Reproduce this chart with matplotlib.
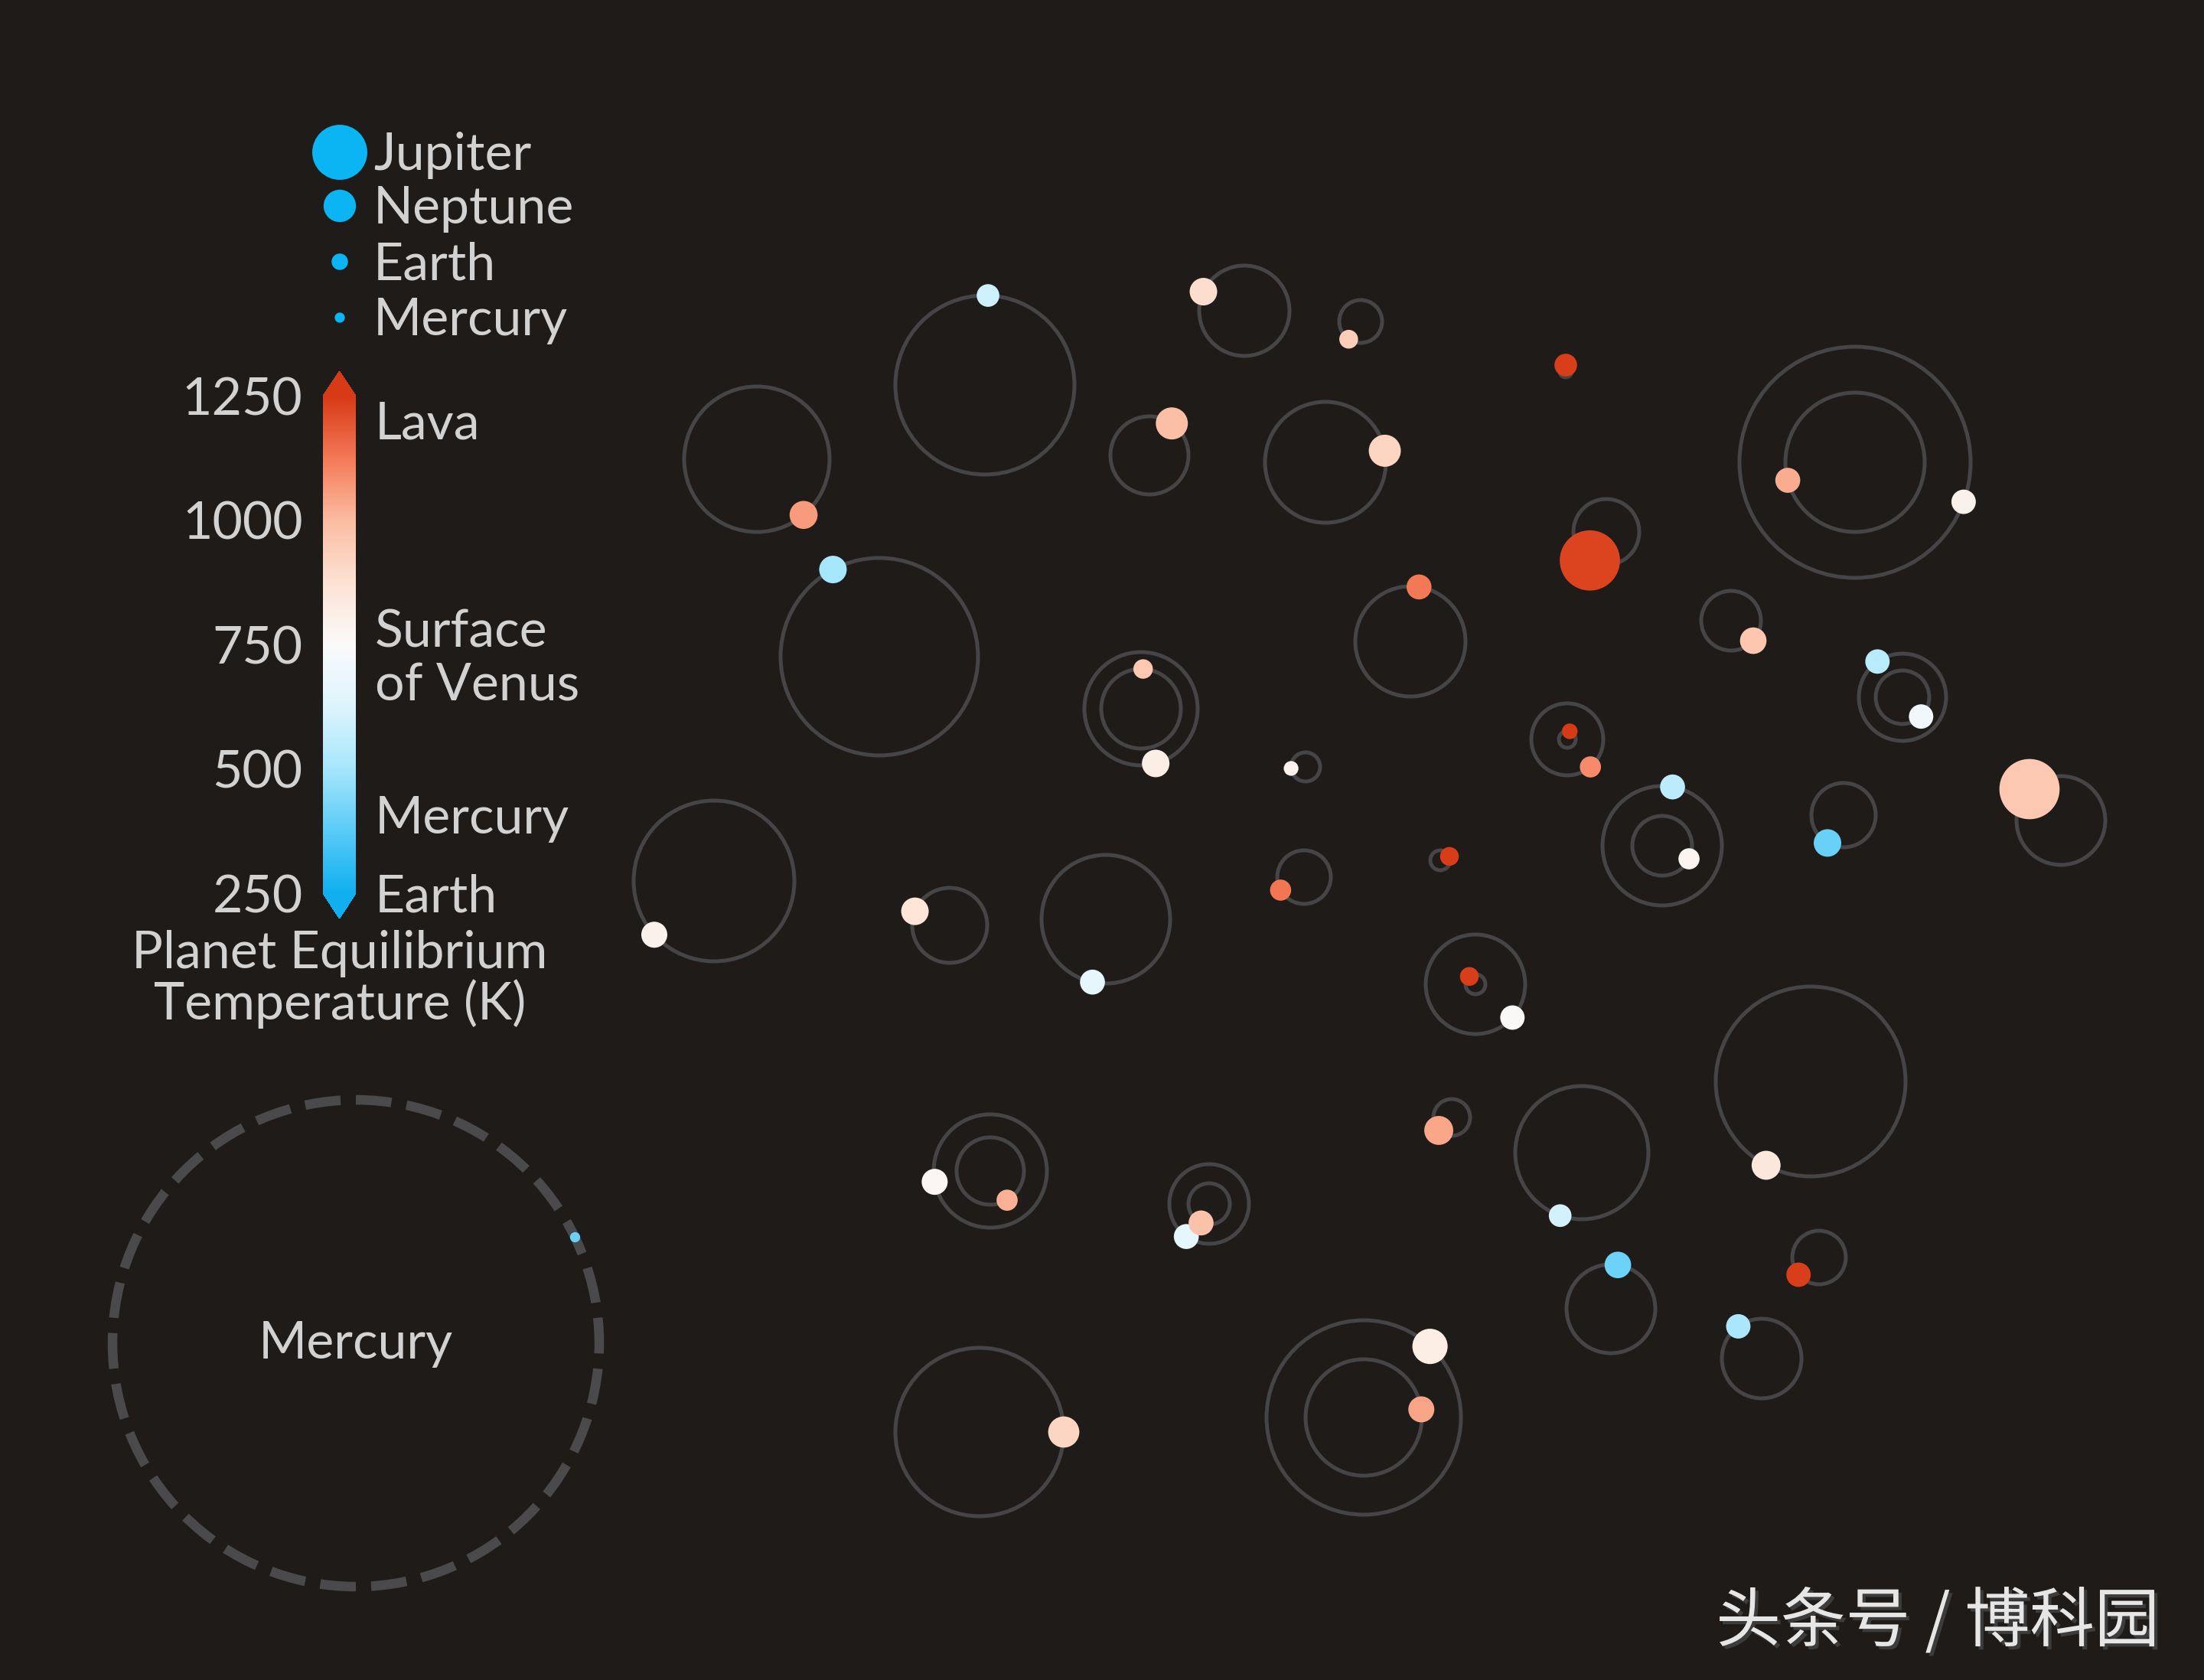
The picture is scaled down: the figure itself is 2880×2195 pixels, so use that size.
import numpy as np
import matplotlib
matplotlib.use("Agg")
import matplotlib.pyplot as plt
import matplotlib.patheffects as pe
from matplotlib.patches import Circle
from matplotlib.colors import LinearSegmentedColormap, Normalize
from matplotlib.cm import ScalarMappable

W, H = 2880, 2195
BG = '#1f1b18'
ORBIT = '#454547'
TXT = '#d2d2d2'
FS = 49

plt.rcParams['font.family'] = ['Lato', 'DejaVu Sans']
plt.rcParams['font.weight'] = 'normal'

# centre of every star system on the canvas (pixels, y down)
sys_x = [989, 1287, 1626, 1778, 1502, 1732, 1149, 1491, 1706, 933,
         1241, 1445, 1704, 2046, 2099, 2424, 1843, 2262, 2486, 2048,
         2172, 2409, 2693, 1882, 1928, 1897, 2067, 2366, 2105, 2377,
         2302, 1782, 1294, 1580, 1280]
sys_y = [600, 503, 406, 420, 595, 604, 858, 926, 1002, 1151,
         1209, 1201, 1146, 485, 695, 604, 838, 811, 911, 966,
         1105, 1065, 1072, 1124, 1286, 1460, 1506, 1413, 1710, 1643,
         1775, 1852, 1530, 1573, 1871]

# planets: system, orbit radius, orbit angle (deg), radius (Earth radii), temperature (K)
pl_sys = [0, 1, 2, 3, 4, 5, 6, 7, 7, 8,
          9, 10, 11, 12, 13, 14, 15, 15, 16, 17,
          18, 18, 19, 19, 20, 20, 21, 22, 23, 24,
          24, 25, 26, 27, 28, 29, 30, 31, 31, 32,
          32, 33, 33, 34]
pl_orbit = [95, 117, 59, 28, 51, 79, 129, 52, 74, 19,
            105, 49, 84, 35, 8, 43, 91, 151, 72, 39,
            57, 35, 11, 47, 78, 39, 42, 58, 13, 13,
            65, 24, 87, 124, 58, 35, 52, 127, 76, 74,
            44, 52, 27, 110]
pl_angle = [50, -88, -155, 124, -55, -11, -118, -87, 75, 174,
            138, -158, 102, 151, -90, 120, 165, 20, -81, 42,
            -125, 46, -73, 50, -80, 26, 120, -135, -23, -128,
            42, 135, 109, 118, -81, 140, -126, -47, -8, 169,
            60, 125, 113, 0]
pl_radius = [2.9, 1.9, 2.8, 1.3, 3.8, 3.8, 2.8, 1.4, 2.8, 0.8,
             2.5, 2.8, 2.3, 1.65, 1.9, 13.4, 2.3, 2.2, 2.3, 2.6,
             2.2, 2.2, 0.9, 1.65, 2.3, 1.65, 2.8, 13.4, 1.3, 1.3,
             2.2, 3.1, 1.9, 3.1, 2.6, 2.2, 2.2, 4.6, 2.5, 2.5,
             1.65, 2.3, 2.3, 3.6]
pl_temp = [1060, 590, 890, 940, 990, 920, 500, 960, 820, 790,
           800, 860, 660, 1130, 1240, 1230, 1030, 800, 1125, 965,
           540, 710, 1250, 1090, 550, 780, 400, 960, 1245, 1240,
           760, 1040, 600, 850, 410, 1240, 510, 820, 1045, 770,
           1020, 660, 980, 915]

# size legend
legend_names = ['Jupiter', 'Neptune', 'Earth', 'Mercury']
legend_radius = [11.2, 3.88, 1.0, 0.383]

# colour scale
temp_ticks = [250, 500, 750, 1000, 1250]
temp_notes = ['Lava', 'Surface', 'of Venus', 'Mercury', 'Earth']

# Mercury reference orbit
merc_orbit = 318
merc_angle = -26
merc_temp = 400
merc_radius = 0.383

cmap = LinearSegmentedColormap.from_list('eqtemp', [
    (0.0, '#10aff0'), (0.125, '#5acbf7'), (0.25, '#a6e6fc'),
    (0.375, '#ddf4fd'), (0.5, '#fafafa'), (0.625, '#fde2d4'),
    (0.75, '#fbbca2'), (0.875, '#f47a58'), (1.0, '#d73a16')])
norm = Normalize(250, 1250)


def dot_size(r_earth):
    # marker area grows linearly with planet radius
    d_px = 21.5 * np.sqrt(np.asarray(r_earth))
    return (d_px * 0.72) ** 2


fig = plt.figure(figsize=(W / 100, H / 100), dpi=100, facecolor=BG)
ax = fig.add_axes([0, 0, 1, 1])
ax.set_facecolor(BG)
ax.set_xlim(0, W)
ax.set_ylim(H, 0)
ax.axis('off')

# orbits
sx = np.array(sys_x, dtype=float)
sy = np.array(sys_y, dtype=float)
ps = np.array(pl_sys)
po = np.array(pl_orbit, dtype=float)
pa = np.radians(pl_angle)
for s, r in zip(ps, po):
    ax.add_patch(Circle((sx[s], sy[s]), r, fill=False, ec=ORBIT, lw=3.6, zorder=1))

px = sx[ps] + po * np.cos(pa)
py = sy[ps] + po * np.sin(pa)
ax.scatter(px, py, s=dot_size(pl_radius), c=pl_temp, cmap=cmap, norm=norm,
           linewidths=0, zorder=3)

# Mercury reference
mx, my = 465, 1755
n_dash = 30
lw_merc = 9
period = 2 * np.pi * merc_orbit / n_dash / (lw_merc * 100 / 72)
ax.add_patch(Circle((mx, my), merc_orbit, fill=False, ec='#4a4a4c', lw=lw_merc,
                    ls=(0, (period * 0.7, period * 0.3)), zorder=1))
ma = np.radians(merc_angle)
ax.scatter([mx + merc_orbit * np.cos(ma)], [my + merc_orbit * np.sin(ma)],
           s=dot_size(merc_radius), c=[merc_temp], cmap=cmap, norm=norm,
           linewidths=0, zorder=3)
ax.text(mx, 1775, 'Mercury', color=TXT, fontsize=FS, ha='center', va='baseline')

# size legend
leg_y = [199, 269, 342, 415]
ax.scatter([444] * 4, leg_y, s=dot_size(legend_radius), color='#0bb4f2',
           linewidths=0, zorder=3)
for name, y in zip(legend_names, leg_y):
    ax.text(488, y + 23, name, color=TXT, fontsize=FS, ha='left', va='baseline')

# colour bar
cax = fig.add_axes([422 / W, (H - 1200) / H, 43 / W, 715 / H])
cb = fig.colorbar(ScalarMappable(norm=norm, cmap=cmap), cax=cax,
                  extend='both', ticks=temp_ticks)
cb.outline.set_visible(False)
cax.yaxis.set_ticks_position('left')
cax.tick_params(length=0, pad=19, labelsize=FS, labelcolor=TXT)
cb.set_ticklabels([str(t) for t in temp_ticks])

note_base = [574, 846, 916, 1089, 1191]
for note, yb in zip(temp_notes, note_base):
    ax.text(490, yb, note, color=TXT, fontsize=FS, ha='left', va='baseline')

ax.text(444, 1265, 'Planet Equilibrium', color=TXT, fontsize=FS,
        ha='center', va='baseline')
ax.text(444, 1332, 'Temperature (K)', color=TXT, fontsize=FS,
        ha='center', va='baseline')

# watermark
ax.text(2822, 2120, '头条号 / 博科园', color='#e6e6e6', fontsize=61,
        ha='right', va='center',
        family=['Noto Sans CJK SC', 'DejaVu Sans'], weight='medium',
        path_effects=[pe.withSimplePatchShadow(offset=(3, -3),
                                               shadow_rgbFace='#3c3c3c',
                                               alpha=1.0)])

fig.savefig('out.png', dpi=100, facecolor=BG)
